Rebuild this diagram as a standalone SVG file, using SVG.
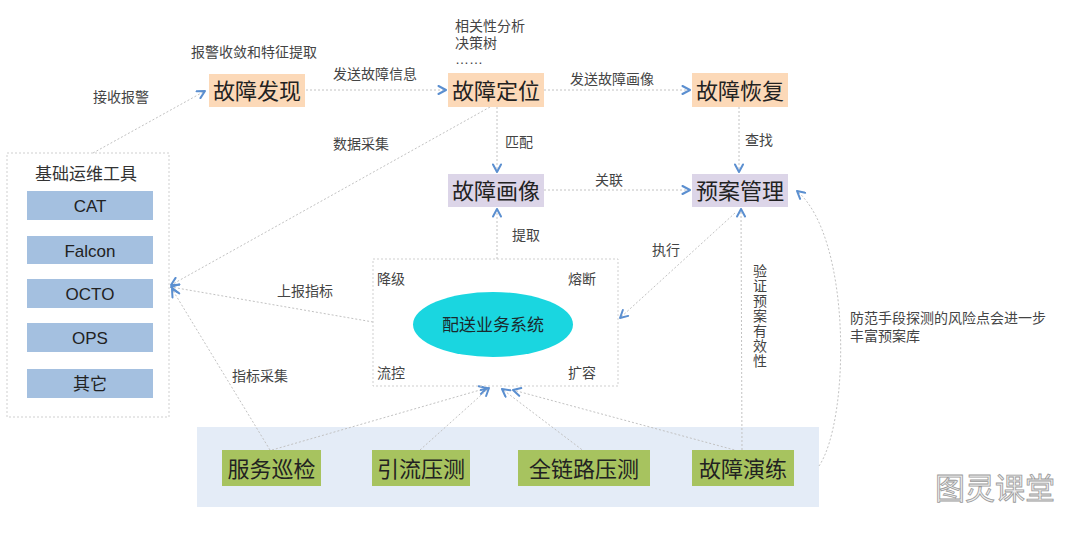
<svg xmlns="http://www.w3.org/2000/svg" width="1077" height="537" viewBox="0 0 1077 537">
<defs>
<style>
text{font-family:"Liberation Sans","Noto Sans CJK SC",sans-serif;}
.node{font-size:22px;fill:#222;text-anchor:middle;dominant-baseline:central;}
.lbl{font-size:14px;fill:#444;dominant-baseline:central;}
.tool{font-size:17px;fill:#222;text-anchor:middle;dominant-baseline:central;}
.orange{fill:#fcd9b8;}
.purple{fill:#dcd5e8;}
.green{fill:#a7c35f;}
.blue{fill:#a4c0e0;}
.dotbox{fill:none;stroke:#cfcfcf;stroke-width:1;stroke-dasharray:2 2;}
.conn{fill:none;stroke:#c2c2c2;stroke-width:1;stroke-dasharray:2 2;}
</style>
<marker id="arr" viewBox="0 0 10 10" refX="9" refY="5" markerWidth="10" markerHeight="10" markerUnits="userSpaceOnUse" orient="auto">
<path d="M1.5,1 L9,5 L1.5,9" fill="none" stroke="#5b8fd0" stroke-width="2" stroke-linecap="round" stroke-linejoin="round"/>
</marker>
</defs>
<rect width="1077" height="537" fill="#ffffff"/>

<g id="bottom-panel"><rect x="197" y="427" width="622" height="80" fill="#e4ecf7"/></g>

<g id="connectors">
<path class="conn" d="M93,153 L205,91" marker-end="url(#arr)"/>
<path class="conn" d="M306,90 L446,90" marker-end="url(#arr)"/>
<path class="conn" d="M544,90 L690,90" marker-end="url(#arr)"/>
<path class="conn" d="M497,107 L497,172" marker-end="url(#arr)"/>
<path class="conn" d="M739,107 L739,172" marker-end="url(#arr)"/>
<path class="conn" d="M544,190 L690,190" marker-end="url(#arr)"/>
<path class="conn" d="M497,259 L497,209" marker-end="url(#arr)"/>
<path class="conn" d="M735,213 L620,318" marker-end="url(#arr)"/>
<path class="conn" d="M742,450 L741,209" marker-end="url(#arr)"/>
<path class="conn" d="M819,466 C850,420 852,238 797,191" marker-end="url(#arr)"/>
<path class="conn" d="M490,107 L171,285" marker-end="url(#arr)"/>
<path class="conn" d="M373,322 L171,287" marker-end="url(#arr)"/>
<path class="conn" d="M270,450 L172,289" marker-end="url(#arr)"/>
<path class="conn" d="M272,450 L487,388" marker-end="url(#arr)"/>
<path class="conn" d="M420,450 L489,388" marker-end="url(#arr)"/>
<path class="conn" d="M585,452 L502,389" marker-end="url(#arr)"/>
<path class="conn" d="M742,452 L513,390" marker-end="url(#arr)"/>
</g>

<g id="labels">
<text class="lbl" x="93" y="97">接收报警</text>
<text class="lbl" x="191" y="52">报警收敛和特征提取</text>
<text class="lbl" x="333" y="74">发送故障信息</text>
<text class="lbl" x="333" y="144">数据采集</text>
<text class="lbl" x="455" y="26">相关性分析</text>
<text class="lbl" x="455" y="43">决策树</text>
<text class="lbl" x="455" y="59">……</text>
<text class="lbl" x="570" y="79">发送故障画像</text>
<text class="lbl" x="505" y="142">匹配</text>
<text class="lbl" x="745" y="140">查找</text>
<text class="lbl" x="595" y="180">关联</text>
<text class="lbl" x="512" y="235">提取</text>
<text class="lbl" x="652" y="250">执行</text>
<text class="lbl" x="277" y="291">上报指标</text>
<text class="lbl" x="232" y="376">指标采集</text>
<text class="lbl" x="850" y="318">防范手段探测的风险点会进一步</text>
<text class="lbl" x="850" y="336">丰富预案库</text>
<text class="lbl" text-anchor="middle" x="760" y="271"><tspan x="760" y="271">验</tspan><tspan x="760" y="286">证</tspan><tspan x="760" y="301">预</tspan><tspan x="760" y="316">案</tspan><tspan x="760" y="331">有</tspan><tspan x="760" y="346">效</tspan><tspan x="760" y="361">性</tspan></text>
</g>

<g id="node-guzhangfaxian"><rect class="orange" x="209" y="74" width="96" height="33"/><text class="node" x="257" y="91">故障发现</text></g>
<g id="node-guzhangdingwei"><rect class="orange" x="448" y="73" width="96" height="34"/><text class="node" x="496" y="91">故障定位</text></g>
<g id="node-guzhanghuifu"><rect class="orange" x="692" y="73" width="96" height="34"/><text class="node" x="740" y="91">故障恢复</text></g>
<g id="node-guzhanghuaxiang"><rect class="purple" x="448" y="174" width="96" height="33"/><text class="node" x="496" y="191">故障画像</text></g>
<g id="node-yuanguanli"><rect class="purple" x="692" y="174" width="96" height="33"/><text class="node" x="740" y="191">预案管理</text></g>

<g id="node-tools">
<rect class="dotbox" x="7" y="153" width="162" height="264"/>
<text class="lbl" x="35" y="174" style="font-size:17px;fill:#333">基础运维工具</text>
<rect class="blue" x="27" y="191" width="126" height="29"/><text class="tool" x="90" y="206">CAT</text>
<rect class="blue" x="27" y="236" width="126" height="28"/><text class="tool" x="90" y="251">Falcon</text>
<rect class="blue" x="27" y="279" width="126" height="29"/><text class="tool" x="90" y="294">OCTO</text>
<rect class="blue" x="27" y="323" width="126" height="29"/><text class="tool" x="90" y="338">OPS</text>
<rect class="blue" x="27" y="369" width="126" height="29"/><text class="tool" x="90" y="384">其它</text>
</g>

<g id="node-peisong">
<rect class="dotbox" x="373" y="259" width="245" height="127"/>
<ellipse cx="493" cy="324.5" rx="80" ry="32.5" fill="#1ad6e0"/>
<text class="tool" x="493" y="325" style="fill:#1a2a2e">配送业务系统</text>
<text class="lbl" x="377" y="279">降级</text>
<text class="lbl" x="568" y="279">熔断</text>
<text class="lbl" x="377" y="373">流控</text>
<text class="lbl" x="568" y="373">扩容</text>
</g>

<g id="node-fuwuxunjian"><rect class="green" x="222" y="450" width="99" height="36"/><text class="node" x="271.5" y="469">服务巡检</text></g>
<g id="node-yinliuyace"><rect class="green" x="372" y="450" width="98" height="36"/><text class="node" x="421" y="469">引流压测</text></g>
<g id="node-quanlianlu"><rect class="green" x="518" y="450" width="132" height="36"/><text class="node" x="584" y="469">全链路压测</text></g>
<g id="node-guzhangyanlian"><rect class="green" x="692" y="450" width="102" height="36"/><text class="node" x="743" y="469">故障演练</text></g>

<text x="995" y="488" text-anchor="middle" dominant-baseline="central" style="font-size:30px;fill:#eeeeee;stroke:#9a9a9a;stroke-width:0.8">图灵课堂</text>
</svg>
